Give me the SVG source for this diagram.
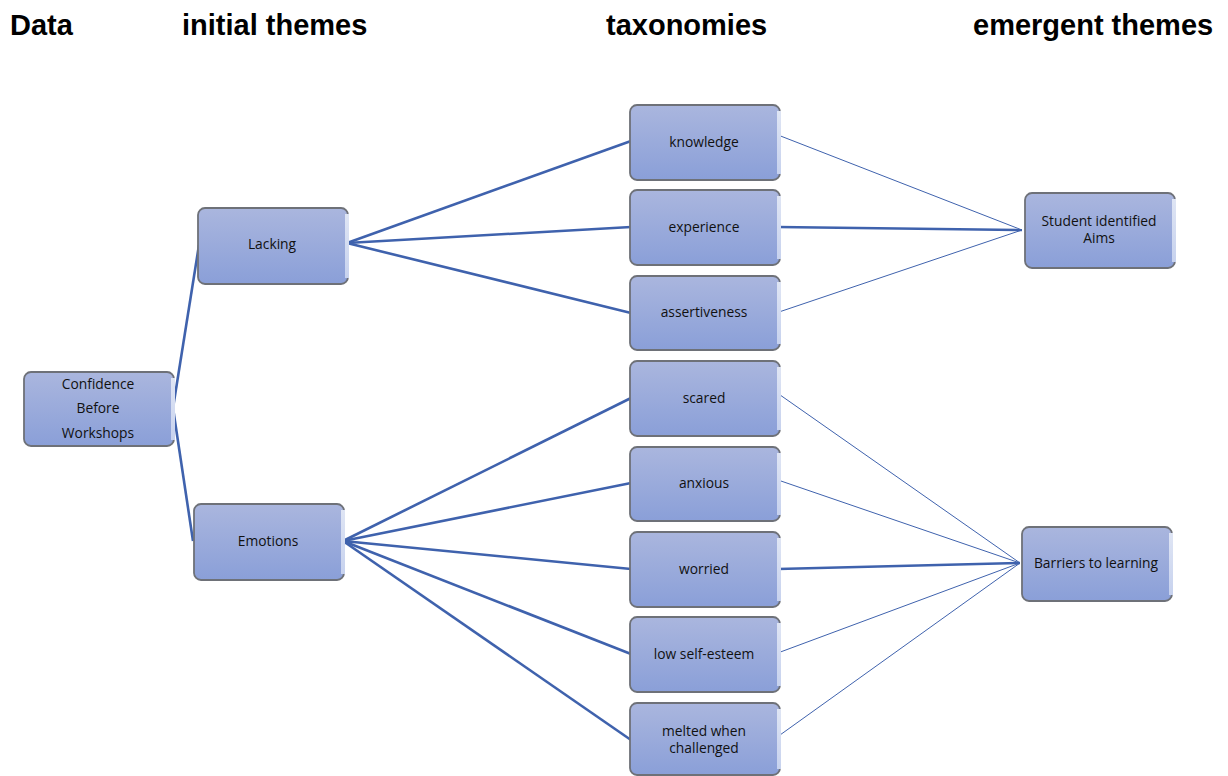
<svg xmlns="http://www.w3.org/2000/svg" width="1228" height="776" viewBox="0 0 1228 776">
<defs>
<linearGradient id="g" x1="0" y1="0" x2="0" y2="1">
<stop offset="0" stop-color="#aab6de"/>
<stop offset="1" stop-color="#8a9fd8"/>
</linearGradient>
<linearGradient id="s" x1="0" y1="0" x2="0" y2="1">
<stop offset="0" stop-color="#dfe5f4"/>
<stop offset="1" stop-color="#c7d2ee"/>
</linearGradient>
</defs>
<style>
.box{fill:url(#g);stroke:#6e7178;stroke-width:1.8}
.edge{fill:url(#s)}
.t{font-family:"Open Sans","Liberation Sans",sans-serif;font-size:13.8px;fill:#111;text-anchor:middle}
.h{font-family:"Liberation Sans",Arial,sans-serif;font-size:29px;font-weight:bold;fill:#000}
.thick{stroke:#3f62ad;stroke-width:2.6;fill:none}
.thin{stroke:#3f62ad;stroke-width:1;fill:none}
</style>
<rect width="1228" height="776" fill="#fff"/>
<g id="headers">
<text class="h" x="10" y="35">Data</text>
<text class="h" x="182" y="35">initial themes</text>
<text class="h" x="606" y="35">taxonomies</text>
<text class="h" x="973" y="35">emergent themes</text>
</g>
<g id="connectors">
<line class="thick" x1="173" y1="408" x2="199" y2="245"/>
<line class="thick" x1="173" y1="408" x2="193" y2="541"/>
<line class="thick" x1="347" y1="243" x2="631" y2="141"/>
<line class="thick" x1="347" y1="243" x2="631" y2="227"/>
<line class="thick" x1="347" y1="243" x2="631" y2="313"/>
<line class="thick" x1="343" y1="541" x2="631" y2="398"/>
<line class="thick" x1="343" y1="541" x2="631" y2="483"/>
<line class="thick" x1="343" y1="541" x2="631" y2="569"/>
<line class="thick" x1="343" y1="541" x2="631" y2="654"/>
<line class="thick" x1="343" y1="541" x2="631" y2="740"/>
<line class="thin" x1="778" y1="135" x2="1022" y2="230"/>
<line class="thick" x1="778" y1="227" x2="1022" y2="230"/>
<line class="thin" x1="776" y1="313" x2="1022" y2="230"/>
<line class="thin" x1="773" y1="390" x2="1020" y2="563"/>
<line class="thin" x1="778" y1="480" x2="1020" y2="563"/>
<line class="thick" x1="778" y1="569" x2="1020" y2="563"/>
<line class="thin" x1="775" y1="654" x2="1020" y2="563"/>
<line class="thin" x1="773" y1="740" x2="1020" y2="563"/>
</g>
<g id="n-confidence"><rect class="box" x="24" y="372" width="150" height="74" rx="7"/><rect class="edge" x="171" y="378" width="4" height="62"/>
<text class="t" x="98" y="389">Confidence</text><text class="t" x="98" y="413">Before</text><text class="t" x="98" y="438">Workshops</text></g>
<g id="n-lacking"><rect class="box" x="198" y="208" width="150" height="76" rx="7"/><rect class="edge" x="345" y="214" width="4" height="64"/>
<text class="t" x="272" y="249">Lacking</text></g>
<g id="n-emotions"><rect class="box" x="194" y="504" width="150" height="76" rx="7"/><rect class="edge" x="341" y="510" width="4" height="64"/>
<text class="t" x="268" y="546">Emotions</text></g>
<g id="n-knowledge"><rect class="box" x="630" y="105" width="150" height="75" rx="7"/><rect class="edge" x="777" y="111" width="4" height="63"/>
<text class="t" x="704" y="147">knowledge</text></g>
<g id="n-experience"><rect class="box" x="630" y="190" width="150" height="75" rx="7"/><rect class="edge" x="777" y="196" width="4" height="63"/>
<text class="t" x="704" y="232">experience</text></g>
<g id="n-assertiveness"><rect class="box" x="630" y="276" width="150" height="74" rx="7"/><rect class="edge" x="777" y="282" width="4" height="62"/>
<text class="t" x="704" y="317">assertiveness</text></g>
<g id="n-scared"><rect class="box" x="630" y="361" width="150" height="75" rx="7"/><rect class="edge" x="777" y="367" width="4" height="63"/>
<text class="t" x="704" y="403">scared</text></g>
<g id="n-anxious"><rect class="box" x="630" y="447" width="150" height="74" rx="7"/><rect class="edge" x="777" y="453" width="4" height="62"/>
<text class="t" x="704" y="488">anxious</text></g>
<g id="n-worried"><rect class="box" x="630" y="532" width="150" height="75" rx="7"/><rect class="edge" x="777" y="538" width="4" height="63"/>
<text class="t" x="704" y="574">worried</text></g>
<g id="n-low"><rect class="box" x="630" y="617" width="150" height="75" rx="7"/><rect class="edge" x="777" y="623" width="4" height="63"/>
<text class="t" x="704" y="659">low self-esteem</text></g>
<g id="n-melted"><rect class="box" x="630" y="703" width="150" height="72" rx="7"/><rect class="edge" x="777" y="709" width="4" height="60"/>
<text class="t" x="704" y="736">melted when</text><text class="t" x="704" y="753">challenged</text></g>
<g id="n-aims"><rect class="box" x="1025" y="193" width="150" height="75" rx="7"/><rect class="edge" x="1172" y="199" width="4" height="63"/>
<text class="t" x="1099" y="226">Student identified</text><text class="t" x="1099" y="243">Aims</text></g>
<g id="n-barriers"><rect class="box" x="1022" y="527" width="150" height="74" rx="7"/><rect class="edge" x="1169" y="533" width="4" height="62"/>
<text class="t" x="1096" y="568">Barriers to learning</text></g>
</svg>
